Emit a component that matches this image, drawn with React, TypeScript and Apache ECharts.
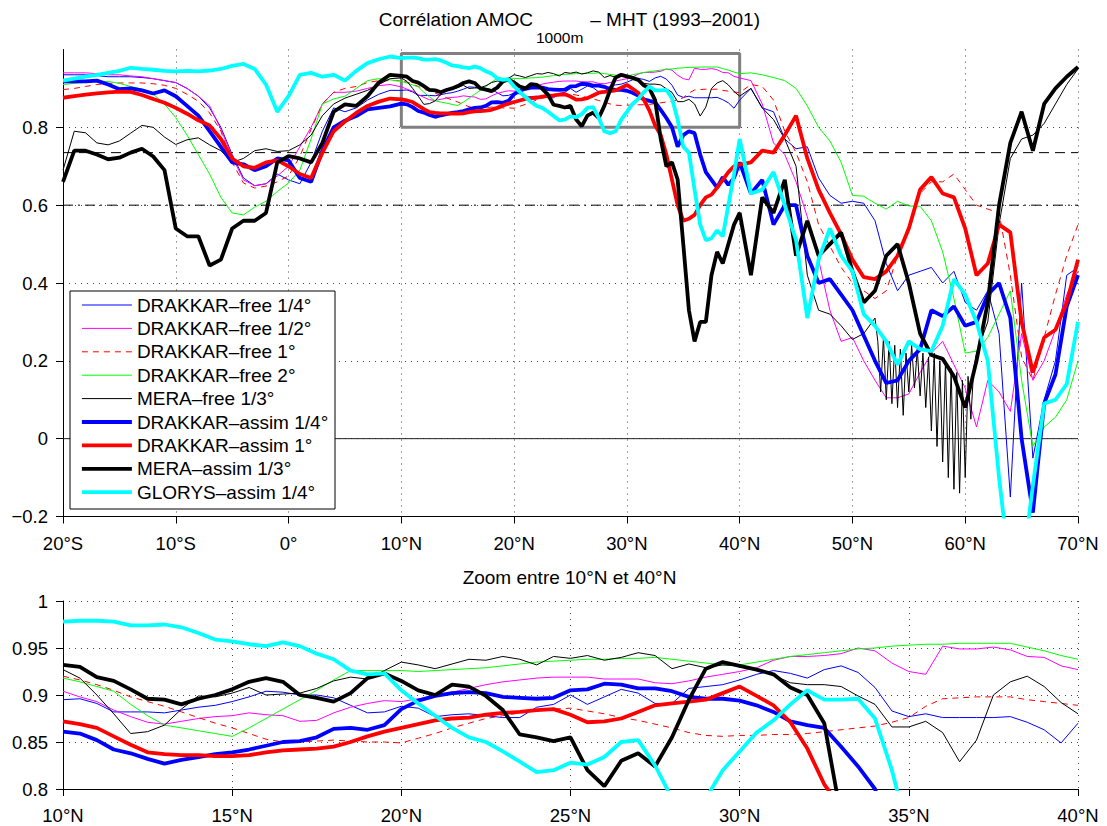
import React, { useEffect, useRef } from 'react';
import * as echarts from 'echarts';

const FONT = "'Liberation Sans', Arial, Helvetica, sans-serif";

// ---------------- series metadata ----------------
const seriesNames = [
  'DRAKKAR–free 1/4°',
  'DRAKKAR–free 1/2°',
  'DRAKKAR–free 1°',
  'DRAKKAR–free 2°',
  'MERA–free 1/3°',
  'DRAKKAR–assim 1/4°',
  'DRAKKAR–assim 1°',
  'MERA–assim 1/3°',
  'GLORYS–assim 1/4°',
];
const seriesColors = ['#0000ff', '#ff00ff', '#ff0000', '#00ff00', '#000000', '#0000ff', '#ff0000', '#000000', '#00ffff'];
const seriesWidths = [1, 1, 1, 1, 1, 3.8, 3.8, 3.8, 3.8];
const seriesDashes: any[] = ['solid', 'solid', [6, 5], 'solid', 'solid', 'solid', 'solid', 'solid', 'solid'];

// latitude layout of the value arrays
const SOUTH_START = -20; // step 1°, -20..9
const ZOOM_START = 10; // step 0.5°, 10..40
const NORTH_START = 41; // step 1°, 41..70

// ---------------- DRAKKAR-free 1/4° ----------------
const dkFree4South = [.935, .935, .935, .933, .93, .93, .93, .928, .925, .92, .915, .9, .88, .85, .8, .73, .67, .65, .655, .68, .665, .655, .71, .79, .85, .84, .85, .87, .885, .895];
const dkFree4Zoom = [.895, .896, .891, .882, .882, .882, .881, .884, .887, .889, .893, .898, .904, .903, .9, .9, .897, .889, .881, .882, .888, .886, .877, .879, .88, .878, .876, .876, .887, .89, .9, .89, .898, .906, .902, .891, .891, .907, .909, .911, .916, .922, .926, .923, .918, .927, .931, .924, .908, .883, .877, .88, .876, .876, .876, .876, .877, .871, .863, .849, .87];
const dkFree4North = [.9, .85, .84, .77, .745, .75, .67, .625, .605, .61, .605, .56, .45, .38, .42, .43, .44, .4, .43, .35, .33, .38, .27, -.15, .4, -.05, .1, .2, .42, .44];

// ---------------- DRAKKAR-free 1/2° ----------------
const dkFree2South = [.94, .94, .94, .938, .935, .935, .932, .93, .925, .92, .915, .9, .88, .855, .795, .725, .665, .65, .655, .675, .7, .75, .8, .86, .89, .89, .893, .9, .907, .91];
const dkFree2Zoom = [.904, .898, .893, .884, .877, .871, .869, .872, .875, .877, .878, .881, .879, .878, .872, .873, .881, .887, .891, .894, .893, .896, .898, .903, .907, .911, .914, .916, .918, .919, .919, .919, .917, .917, .917, .913, .912, .915, .919, .922, .925, .929, .937, .941, .941, .942, .944, .95, .947, .934, .925, .922, .952, .949, .949, .951, .948, .941, .94, .931, .927];
const dkFree2North = [.92, .86, .76, .73, .66, .57, .46, .33, .25, .26, .2, .15, .105, .105, .115, .17, .22, .25, .19, .13, .03, .15, .12, .07, .27, .15, .2, .28, .37, .43];

// ---------------- DRAKKAR-free 1° ----------------
const dkFree1South = [.897, .9, .905, .91, .913, .914, .914, .914, .912, .908, .9, .885, .867, .837, .79, .71, .657, .644, .649, .66, .675, .725, .795, .86, .89, .9, .905, .915, .92, .92];
const dkFree1Zoom = [.92, .916, .911, .905, .898, .893, .888, .882, .876, .87, .865, .859, .853, .85, .85, .851, .852, .851, .85, .85, .849, .854, .859, .865, .87, .875, .878, .881, .883, .885, .886, .883, .88, .876, .873, .869, .865, .86, .857, .856, .857, .857, .858, .858, .859, .861, .863, .865, .867, .871, .876, .888, .896, .897, .898, .898, .898, .895, .893, .891, .889];
const dkFree1North = [.91, .905, .87, .79, .735, .66, .55, .495, .44, .4, .38, .36, .38, .47, .55, .63, .66, .66, .68, .64, .6, .59, .58, .42, .21, .15, .26, .37, .47, .55];

// ---------------- DRAKKAR-free 2° ----------------
const dkFree2dSouth = [.91, .913, .916, .918, .918, .913, .905, .898, .885, .86, .825, .78, .73, .68, .62, .58, .575, .595, .61, .635, .657, .69, .77, .86, .873, .88, .9, .92, .925, .922];
const dkFree2dZoom = [.918, .914, .909, .904, .89, .878, .868, .865, .862, .859, .856, .865, .875, .885, .895, .905, .916, .926, .926, .926, .926, .925, .926, .927, .928, .929, .931, .933, .935, .936, .937, .938, .938, .939, .939, .94, .938, .936, .934, .932, .932, .935, .938, .941, .943, .945, .947, .949, .95, .952, .953, .954, .954, .955, .955, .955, .955, .951, .947, .942, .938];
const dkFree2dNorth = [.94, .935, .928, .92, .9, .855, .8, .765, .71, .625, .623, .605, .59, .61, .598, .597, .56, .48, .36, .22, .225, .26, .32, .38, .15, -.02, .03, .055, .1, .2];

// ---------------- MERA-free 1/3° ----------------
const meraFreeSouth = [.69, .79, .786, .76, .755, .765, .785, .805, .8, .775, .756, .768, .773, .755, .74, .71, .72, .74, .745, .738, .74, .755, .78, .83, .86, .875, .885, .895, .91, .925];
const meraFreeZoom = [.927, .918, .9, .88, .859, .861, .868, .885, .899, .898, .902, .908, .9, .901, .902, .907, .915, .919, .917, .926, .935, .932, .928, .933, .938, .937, .941, .938, .932, .941, .939, .942, .937, .94, .945, .942, .928, .933, .929, .932, .931, .927, .921, .913, .911, .911, .909, .899, .89, .866, .866, .872, .86, .829, .852, .9, .914, .92, .909, .892, .88];
const meraFreeNorthA = [.9, .85, .82, .77, .7, .42, .33, .32, .29, .255, .27, .31]; // 41..52
const meraFreeOsc = [.25, .12, .26, .1, .25, .09, .24, .08, .23, .06, .22, .12, .24, .13, .23, .11, .22, .08, .21, .02, .22, -.02, .2, -.06, .2, -.1, .18, -.13, .17, -.14, .15, -.1, .16, .05, .18]; // 52.25..60.75 step .25
const meraFreeNorthB = [.22, .3, .55, .72, .77, .78, .81, .86, .91, .95]; // 61..70

// ---------------- DRAKKAR-assim 1/4° ----------------
const dkAssim4South = [.918, .918, .918, .92, .91, .898, .9, .895, .887, .895, .88, .855, .83, .79, .75, .71, .705, .69, .7, .72, .715, .67, .66, .74, .8, .817, .829, .846, .85, .854];
const dkAssim4Zoom = [.861, .859, .852, .842, .838, .832, .827, .831, .834, .837, .839, .842, .846, .85, .851, .855, .864, .865, .863, .868, .885, .894, .899, .902, .903, .902, .898, .897, .896, .897, .905, .906, .912, .911, .907, .907, .904, .898, .896, .896, .894, .889, .882, .872, .868, .865, .845, .824, .8, .75, .78, .79, .785, .73, .685, .665, .645, .672, .652, .67, .71];
const dkAssim4North = [.63, .665, .55, .6, .6, .47, .4, .41, .37, .33, .265, .2, .143, .15, .2, .23, .33, .315, .34, .29, .3, .37, .4, .31, 0, -.19, .09, .165, .34, .42];

// ---------------- DRAKKAR-assim 1° ----------------
const dkAssim1South = [.876, .88, .884, .887, .89, .892, .891, .883, .873, .863, .85, .835, .818, .805, .77, .72, .7, .696, .71, .715, .7, .68, .67, .735, .79, .815, .837, .855, .866, .874];
const dkAssim1Zoom = [.872, .869, .865, .856, .847, .839, .837, .836, .836, .835, .835, .836, .839, .841, .842, .843, .845, .85, .856, .861, .865, .869, .873, .875, .876, .879, .881, .882, .884, .885, .879, .871, .872, .875, .882, .889, .891, .893, .895, .902, .909, .899, .889, .871, .843, .805, .78, .73, .665, .6, .56, .565, .575, .6, .62, .627, .645, .665, .685, .7, .704];
const dkAssim1North = [.71, .74, .735, .78, .83, .72, .64, .58, .525, .46, .415, .41, .43, .47, .54, .64, .672, .63, .62, .54, .42, .45, .55, .53, .3, .17, .26, .28, .35, .46];

// ---------------- MERA-assim 1/3° ----------------
const meraAssimSouth = [.66, .74, .74, .73, .718, .722, .735, .745, .725, .69, .54, .52, .52, .445, .46, .54, .56, .56, .58, .71, .726, .72, .71, .76, .84, .859, .855, .88, .915, .935];
const meraAssimZoom = [.932, .93, .919, .915, .906, .896, .895, .89, .896, .9, .906, .914, .918, .914, .9, .897, .893, .902, .918, .923, .915, .905, .9, .911, .909, .899, .884, .858, .855, .851, .855, .82, .803, .83, .838, .824, .855, .895, .928, .935, .931, .927, .922, .908, .9, .87, .77, .7, .71, .666, .5, .33, .25, .3, .3, .42, .48, .45, .5, .55, .58];
const meraAssimNorth = [.42, .62, .58, .665, .47, .56, .47, .5, .53, .43, .35, .38, .47, .5, .4, .27, .215, .205, .16, .08, .2, .35, .6, .76, .84, .74, .86, .9, .93, .955];

// ---------------- GLORYS-assim 1/4° ----------------
const glorysSouth = [.92, .925, .93, .935, .94, .945, .953, .95, .948, .945, .944, .945, .944, .946, .95, .958, .963, .95, .91, .84, .88, .935, .94, .93, .935, .92, .945, .965, .975, .982];
const glorysZoom = [.978, .979, .979, .978, .974, .974, .975, .972, .966, .959, .957, .954, .952, .956, .952, .944, .938, .926, .922, .923, .905, .891, .878, .865, .855, .85, .84, .829, .818, .82, .828, .826, .834, .85, .852, .825, .79, .785, .79, .82, .84, .86, .873, .89, .905, .895, .895, .896, .875, .82, .75, .735, .64, .55, .51, .515, .535, .52, .6, .68, .77];
const glorysNorth = [.63, .64, .685, .6, .51, .31, .46, .54, .47, .43, .32, .29, .25, .19, .25, .23, .225, .29, .41, .37, .3, .2, -.1, -.35, -.35, -.12, .09, .1, .14, .3];

// ---------------- reference lines / zoom box ----------------
const refDashed = 0.735;
const refDashDot = 0.6;
const refZero = 0;
const zoomBoxLat = [10, 40];
const zoomBoxVal = [0.8, 0.99];

// axis extents
const topLat = [-20, 70];
const topVal = [-0.2, 1];
const zoomLat = [10, 40];
const zoomVal = [0.8, 1];

// title pieces
const titleMain = 'Corrélation AMOC';
const titleSub = '1000m';
const titleRest = ' – MHT (1993–2001)';
const zoomTitle = 'Zoom entre 10°N et 40°N';

function seg(start: number, step: number, vals: number[]) {
  return vals.map((v, i) => [Math.round((start + i * step) * 100) / 100, v]);
}

const zoomParts = [dkFree4Zoom, dkFree2Zoom, dkFree1Zoom, dkFree2dZoom, meraFreeZoom, dkAssim4Zoom, dkAssim1Zoom, meraAssimZoom, glorysZoom];
const southParts = [dkFree4South, dkFree2South, dkFree1South, dkFree2dSouth, meraFreeSouth, dkAssim4South, dkAssim1South, meraAssimSouth, glorysSouth];

function fullSeries(i: number) {
  const south = seg(SOUTH_START, 1, southParts[i]);
  const mid = seg(ZOOM_START, 0.5, zoomParts[i]);
  let north: number[][];
  switch (i) {
    case 0: north = seg(NORTH_START, 1, dkFree4North); break;
    case 1: north = seg(NORTH_START, 1, dkFree2North); break;
    case 2: north = seg(NORTH_START, 1, dkFree1North); break;
    case 3: north = seg(NORTH_START, 1, dkFree2dNorth); break;
    case 4:
      north = [...seg(NORTH_START, 1, meraFreeNorthA), ...seg(52.25, 0.25, meraFreeOsc), ...seg(61, 1, meraFreeNorthB)];
      break;
    case 5: north = seg(NORTH_START, 1, dkAssim4North); break;
    case 6: north = seg(NORTH_START, 1, dkAssim1North); break;
    case 7: north = seg(NORTH_START, 1, meraAssimNorth); break;
    default: north = seg(NORTH_START, 1, glorysNorth);
  }
  return [...south, ...mid, ...north];
}

const latLabel = (v: number) => (v < 0 ? `${-v}°S` : v === 0 ? '0°' : `${v}°N`);
const numLabel = (v: number) => {
  const r = Number(v.toFixed(3));
  return r < 0 ? '−' + Math.abs(r) : String(r);
};

const labelStyle = { color: '#000', fontSize: 18.5, fontFamily: FONT };
const axisLine = { show: true, onZero: false, lineStyle: { color: '#000', width: 1 } };
const axisTick = { show: true, inside: false, length: 7, lineStyle: { color: '#000', width: 1 } };
const splitLine = { show: true, lineStyle: { color: '#444', width: 1, type: [1, 5] as any } };

function buildOption() {
  const series: any[] = [];

  const refLine = (v: number, type: any, color: string) => ({
    type: 'line', xAxisIndex: 0, yAxisIndex: 0, silent: true, symbol: 'none',
    data: [[topLat[0], v], [topLat[1], v]],
    lineStyle: { color, width: 1, type }, z: 1,
  });
  series.push(refLine(refZero, 'solid', '#222'));
  series.push(refLine(refDashed, [10, 6], '#000'));
  series.push(refLine(refDashDot, [10, 5, 2, 5], '#000'));
  series.push({
    type: 'line', xAxisIndex: 0, yAxisIndex: 0, silent: true, symbol: 'none', z: 1,
    data: [
      [zoomBoxLat[0], zoomBoxVal[0]], [zoomBoxLat[1], zoomBoxVal[0]], [zoomBoxLat[1], zoomBoxVal[1]],
      [zoomBoxLat[0], zoomBoxVal[1]], [zoomBoxLat[0], zoomBoxVal[0]],
    ],
    lineStyle: { color: '#808080', width: 3 },
  });

  seriesNames.forEach((name, i) => {
    const base = {
      name, type: 'line', symbol: 'none', showSymbol: false, silent: true,
      lineStyle: { color: seriesColors[i], width: seriesWidths[i], type: seriesDashes[i] },
      itemStyle: { color: seriesColors[i] },
      emphasis: { disabled: true },
      clip: true, z: 2,
    };
    series.push({ ...base, xAxisIndex: 0, yAxisIndex: 0, data: fullSeries(i) });
    series.push({ ...base, xAxisIndex: 1, yAxisIndex: 1, data: seg(ZOOM_START, 0.5, zoomParts[i]) });
  });

  // title: main text right-aligned at the subscript anchor, rest follows the subscript
  const subAnchorX = 533;
  const subWidth = 52;
  const tStyle = { fontSize: 19, fontFamily: FONT, fill: '#000', verticalAlign: 'top' };

  return {
    animation: false,
    backgroundColor: '#fff',
    grid: [
      { left: 63, right: 29, top: 49.5, bottom: 309.5 },
      { left: 63, right: 29, top: 601, bottom: 37 },
    ],
    xAxis: [
      {
        type: 'value', gridIndex: 0, min: topLat[0], max: topLat[1], interval: 10,
        axisLine, axisTick, splitLine,
        axisLabel: { ...labelStyle, margin: 17, formatter: latLabel },
      },
      {
        type: 'value', gridIndex: 1, min: zoomLat[0], max: zoomLat[1], interval: 5,
        axisLine, axisTick, splitLine,
        axisLabel: { ...labelStyle, margin: 17, formatter: latLabel },
      },
    ],
    yAxis: [
      {
        type: 'value', gridIndex: 0, min: topVal[0], max: topVal[1], interval: 0.2,
        axisLine, axisTick,
        splitLine: { ...splitLine, showMaxLine: false },
        axisLabel: { ...labelStyle, margin: 15, showMaxLabel: false, formatter: numLabel },
      },
      {
        type: 'value', gridIndex: 1, min: zoomVal[0], max: zoomVal[1], interval: 0.05,
        axisLine, axisTick, splitLine,
        axisLabel: { ...labelStyle, margin: 15, formatter: numLabel },
      },
    ],
    legend: {
      data: seriesNames.map((name, i) => ({
        name,
        lineStyle: { width: seriesWidths[i], color: seriesColors[i], type: seriesDashes[i] },
      })),
      orient: 'vertical',
      left: 80,
      top: 295.5,
      padding: 0,
      itemGap: 4.4,
      itemWidth: 50,
      itemHeight: 14,
      selectedMode: false,
      itemStyle: { color: 'rgba(0,0,0,0)', borderColor: 'rgba(0,0,0,0)', borderWidth: 0, opacity: 0 },
      textStyle: { color: '#000', fontSize: 19, fontFamily: FONT, lineHeight: 19 },
      z: 10,
    },
    graphic: [
      {
        type: 'rect', z: 5,
        shape: { x: 70, y: 291, width: 265, height: 218 },
        style: { fill: '#fff', stroke: '#000', lineWidth: 1 },
      },
      { type: 'text', z: 10, x: subAnchorX, y: 10, style: { ...tStyle, align: 'right', text: titleMain } },
      { type: 'text', z: 10, x: subAnchorX + 3, y: 29.5, style: { ...tStyle, align: 'left', fontSize: 15.5, text: titleSub } },
      { type: 'text', z: 10, x: subAnchorX + subWidth, y: 10, style: { ...tStyle, align: 'left', text: titleRest } },
      {
        type: 'text', z: 10, x: 569.5, y: 568,
        style: { ...tStyle, align: 'center', text: zoomTitle },
      },
    ],
    series,
  };
}

export default function App() {
  const ref = useRef<HTMLDivElement>(null);
  useEffect(() => {
    if (!ref.current) return;
    const chart = echarts.init(ref.current, undefined, { renderer: 'svg' });
    chart.setOption(buildOption() as any);
    return () => chart.dispose();
  }, []);
  return (
    <div
      ref={ref}
      style={{ position: 'fixed', left: 0, top: 0, width: 1107, height: 826, background: '#fff' }}
    />
  );
}
